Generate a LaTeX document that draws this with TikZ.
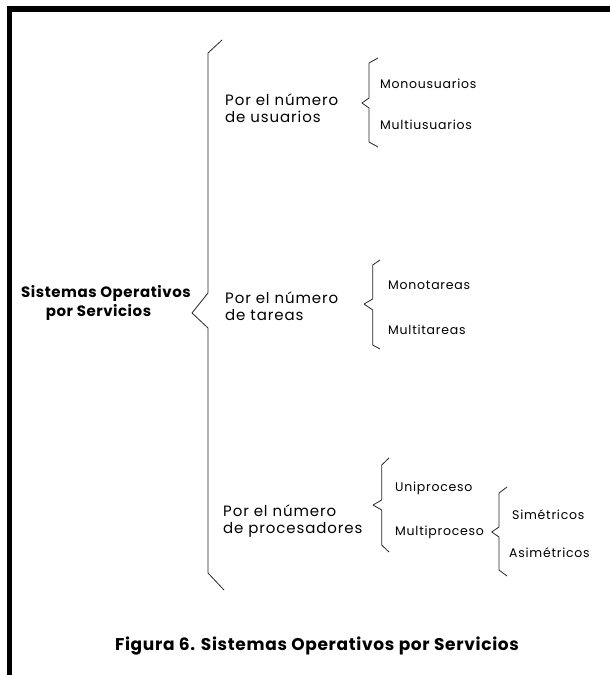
\documentclass[tikz,border=0pt]{standalone}
\usepackage{fontspec}
\setmainfont{Poppins}
\begin{document}
\begin{tikzpicture}[x=1pt,y=-1pt,
  brace/.style={line width=0.8pt, black!85, line join=round},
  midlbl/.style={anchor=west, inner sep=0pt, align=left, font=\fontsize{15}{17}\selectfont\addfontfeatures{LetterSpace=6}},
  leaflbl/.style={anchor=west, inner sep=0pt, font=\fontsize{12.5}{14}\selectfont\addfontfeatures{LetterSpace=6}},
  rootlbl/.style={inner sep=0pt, font=\fontsize{15}{17}\selectfont\bfseries\addfontfeatures{LetterSpace=3.5}},
  caplbl/.style={inner sep=0pt, font=\fontsize{17}{19}\selectfont\bfseries\addfontfeatures{LetterSpace=4}}]
\useasboundingbox (0,0) rectangle (610,675);
\fill[white] (0,0) rectangle (610,675);
% frame
\fill[black] (7,6) rectangle (610,12);
\fill[black] (7,6) rectangle (12,675);
% root
\node[rootlbl] (root1) at (106,293) {Sistemas Operativos};
\node[rootlbl] (root2) at (98.5,312) {por Servicios};
% big brace
\draw[brace] (222,40) -- (208,53) -- (208,293) -- (192,313) -- (208,328) -- (208,573) -- (224,590);
% level 1
\node[midlbl] (usr) at (225,108.5) {Por el número\\de usuarios};
\node[midlbl] (tar) at (225,306.5) {Por el número\\de tareas};
\node[midlbl] (pro) at (223,521.5) {Por el número\\de procesadores};
% brace usuarios
\draw[brace] (378,58) -- (369,63) -- (369,98) -- (362,103) -- (369,108) -- (369,142) -- (378,147);
\node[leaflbl] (mono) at (380,84) {Monousuarios};
\node[leaflbl] (multi) at (380,125) {Multiusuarios};
% brace tareas
\draw[brace] (380,260) -- (372.7,265) -- (372.7,299) -- (364,304) -- (372.7,310) -- (372.7,345) -- (380,349);
\node[leaflbl] (monot) at (388,285) {Monotareas};
\node[leaflbl] (multit) at (388,330) {Multitareas};
% brace procesadores
\draw[brace] (389,458) -- (381.7,465) -- (381.7,500) -- (373,505) -- (381.7,510) -- (381.7,545) -- (389,552);
\node[leaflbl] (uni) at (395,488) {Uniproceso};
\node[leaflbl] (multip) at (395,532) {Multiproceso};
% brace multiproceso
\draw[brace] (507,487) -- (499,493) -- (499,527) -- (491.7,532) -- (499,537) -- (499,570) -- (507,576);
\node[leaflbl] (sim) at (512,515) {Simétricos};
\node[leaflbl] (asim) at (509,553) {Asimétricos};
% caption
\node[caplbl] (cap) at (317,646.5) {Figura 6. Sistemas Operativos por Servicios};
\end{tikzpicture}
\end{document}
